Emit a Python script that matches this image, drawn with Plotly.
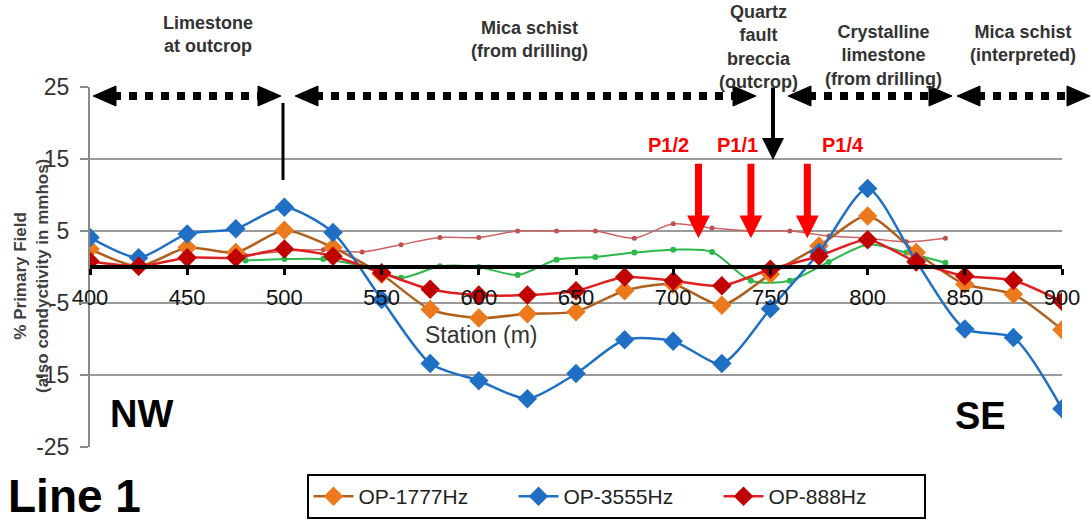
import plotly.graph_objects as go

# ---------------- data ----------------
stations = [400, 425, 450, 475, 500, 525, 550, 575, 600, 625, 650,
            675, 700, 725, 750, 775, 800, 825, 850, 875, 900]
op1777 = [2.5, 0.1, 2.7, 2.0, 5.1, 2.7, -1.0, -5.9, -7.1, -6.5, -6.2,
          -3.3, -2.4, -5.3, -1.0, 2.9, 7.1, 2.0, -2.4, -3.8, -8.7]
op3555 = [4.1, 1.3, 4.6, 5.3, 8.3, 4.8, -4.5, -13.4, -15.8, -18.3, -14.8,
          -10.1, -10.3, -13.4, -5.8, 2.0, 10.9, 0.8, -8.6, -9.8, -19.7]
op888 = [0.8, 0.1, 1.3, 1.3, 2.5, 1.5, -0.8, -3.1, -3.9, -3.9, -3.3,
         -1.4, -1.9, -2.6, -0.3, 1.5, 3.8, 0.7, -1.25, -1.85, -4.8]

stations_b = [480, 500, 520, 540, 560, 580, 600, 620, 640, 660, 680,
              700, 720, 740, 760, 780, 800, 820, 840]
green_vals = [0.9, 1.1, 1.1, 0.1, -1.5, 0.1, 0.0, -1.1, 1.0, 1.4, 2.0,
              2.4, 2.1, -1.9, -1.9, 0.7, 3.1, 2.0, 0.6]
thinred_vals = [1.6, 2.2, 2.4, 2.1, 3.1, 4.1, 4.1, 5.0, 5.0, 5.0, 4.0,
                6.0, 5.4, 5.0, 5.0, 4.3, 4.0, 3.5, 4.0]

x_ticks = [400, 450, 500, 550, 600, 650, 700, 750, 800, 850, 900]
y_ticks = [-25, -15, -5, 5, 15, 25]
y_tick_text = ["-25", "-15", "-5", "5", "15", "25"]

p1_labels = ["P1/2", "P1/1", "P1/4"]
p1_stations = [713, 740, 769]

# ---------------- layout geometry helpers ----------------
W, H = 1091, 523
L, R, T, B = 90, 29, 87, 76
PW, PH = W - L - R, H - T - B


def px_x(px):
    return (px - L) / PW


def px_y(py):
    return (H - B - py) / PH


def note(text, cx, cy, font, **kw):
    d = dict(x=px_x(cx), y=px_y(cy), xref="paper", yref="paper", text=text,
             showarrow=False, font=font, xanchor="center", yanchor="middle")
    d.update(kw)
    return d


fig = go.Figure()

fig.add_trace(go.Scatter(
    x=stations_b, y=thinred_vals, mode="lines+markers", showlegend=False,
    line=dict(color="#CC6464", width=1.5, shape="spline", smoothing=0.8),
    marker=dict(size=5, color="#C05050")))
fig.add_trace(go.Scatter(
    x=stations_b, y=green_vals, mode="lines+markers", showlegend=False,
    line=dict(color="#2DB84B", width=2, shape="spline", smoothing=0.8),
    marker=dict(size=6, color="#2DB84B")))
fig.add_trace(go.Scatter(
    x=stations, y=op1777, mode="lines+markers", name="OP-1777Hz",
    line=dict(color="#B0601E", width=2.5, shape="spline", smoothing=0.7),
    marker=dict(symbol="diamond", size=15, color="#EC7A1C")))
fig.add_trace(go.Scatter(
    x=stations, y=op3555, mode="lines+markers", name="OP-3555Hz",
    line=dict(color="#1F6FC5", width=2.5, shape="spline", smoothing=0.7),
    marker=dict(symbol="diamond", size=15, color="#1F6FC5")))
fig.add_trace(go.Scatter(
    x=stations, y=op888, mode="lines+markers", name="OP-888Hz",
    line=dict(color="#E02020", width=2.5, shape="spline", smoothing=0.7),
    marker=dict(symbol="diamond", size=15, color="#C00000")))

shapes = []
annotations = []

# dotted double arrows at the top
segments = [(93, 281), (295, 756), (788, 952), (957, 1090)]
ay_px = 96
for (a, b) in segments:
    shapes.append(dict(type="line", xref="paper", yref="paper",
                       x0=px_x(a + 20), x1=px_x(b - 20), y0=px_y(ay_px), y1=px_y(ay_px),
                       line=dict(color="black", width=8, dash="dot")))
    shapes.append(dict(type="path", xref="paper", yref="paper",
                       path="M {} {} L {} {} L {} {} Z".format(
                           px_x(a), px_y(ay_px), px_x(a + 23), px_y(ay_px - 10),
                           px_x(a + 23), px_y(ay_px + 10)),
                       fillcolor="black", line=dict(color="black", width=1)))
    shapes.append(dict(type="path", xref="paper", yref="paper",
                       path="M {} {} L {} {} L {} {} Z".format(
                           px_x(b), px_y(ay_px), px_x(b - 23), px_y(ay_px - 10),
                           px_x(b - 23), px_y(ay_px + 10)),
                       fillcolor="black", line=dict(color="black", width=1)))

# vertical line at 500
shapes.append(dict(type="line", xref="paper", yref="paper",
                   x0=px_x(283), x1=px_x(283), y0=px_y(103), y1=px_y(180),
                   line=dict(color="black", width=3)))

# black arrow (fault)
annotations.append(dict(x=px_x(773), y=px_y(160), xref="paper", yref="paper",
                        ax=0, ay=-74, showarrow=True, arrowhead=2, arrowsize=1.1,
                        arrowwidth=4, arrowcolor="black", text="", standoff=0))

# red arrows & labels
label_px = [668, 737, 843]
p1_font = dict(family="Liberation Sans, Arial", size=20, color="#FF0000")
for lab, st, lx in zip(p1_labels, p1_stations, label_px):
    annotations.append(dict(x=st, y=4.0, xref="x", yref="y", ax=0, ay=-76,
                            showarrow=True, arrowhead=2, arrowsize=0.65, arrowwidth=7,
                            arrowcolor="#FF0000", text="", standoff=0))
    annotations.append(note("<b>" + lab + "</b>", lx, 145, p1_font, bgcolor="white"))

# top rock-type labels
top_font = dict(family="Liberation Sans, Arial", size=18, color="#333333")
top_labels = [
    ("Limestone<br>at outcrop", 208, 34),
    ("Mica schist<br>(from drilling)", 529, 39),
    ("Quartz<br>fault<br>breccia<br>(outcrop)", 758, 47),
    ("Crystalline<br>limestone<br>(from drilling)", 883, 55),
    ("Mica schist<br>(interpreted)", 1023, 44),
]
for txt, cx, cy in top_labels:
    annotations.append(note("<b>" + txt + "</b>", cx, cy, top_font, align="center"))

big = dict(family="Liberation Sans, Arial", size=38, color="black")
annotations.append(note("<b>NW</b>", 141, 414, big))
annotations.append(note("<b>SE</b>", 980, 416, big))
annotations.append(note("<b>Line 1</b>", 74, 496,
                        dict(family="Liberation Sans, Arial", size=46, color="black")))
annotations.append(note("Station (m)", 481, 335,
                        dict(family="Liberation Sans, Arial", size=23, color="#333333")))

# y-axis title
annotations.append(note("<b>% Primary Field<br>(also condyctivity in mmhos)</b>", 31, 276,
                        dict(family="Liberation Sans, Arial", size=17, color="#404040"),
                        textangle=-90))

fig.update_layout(
    width=W, height=H,
    margin=dict(l=L, r=R, t=T, b=B, pad=0, autoexpand=False),
    paper_bgcolor="white", plot_bgcolor="white",
    shapes=shapes, annotations=annotations,
    xaxis=dict(range=[400, 900], tickvals=x_ticks, showgrid=False, zeroline=False,
               anchor="free", position=0.5, showline=True, linecolor="black", linewidth=4,
               ticks="outside", ticklen=6, tickwidth=3, tickcolor="black",
               ticklabelstandoff=4,
               tickfont=dict(family="Liberation Sans, Arial", size=22, color="#111111")),
    yaxis=dict(range=[-25, 25], tickvals=y_ticks, ticktext=y_tick_text,
               showgrid=True, gridcolor="#9A9A9A",
               gridwidth=2, zeroline=False, showline=True, linecolor="#8A8A8A", linewidth=2,
               ticks="outside", ticklen=8, tickcolor="#8A8A8A", tickwidth=2,
               ticklabelstandoff=6,
               tickfont=dict(family="Liberation Sans, Arial", size=23, color="#333333")),
    legend=dict(orientation="h", x=px_x(616), y=px_y(474), xanchor="center", yanchor="top",
                bordercolor="black", borderwidth=2, bgcolor="white",
                font=dict(family="Liberation Sans Narrow, Liberation Sans, Arial Narrow",
                          size=21, color="#222222"),
                itemwidth=40, entrywidth=150, entrywidthmode="pixels", tracegroupgap=0),
    showlegend=True,
)

fig.write_html("out.html")
